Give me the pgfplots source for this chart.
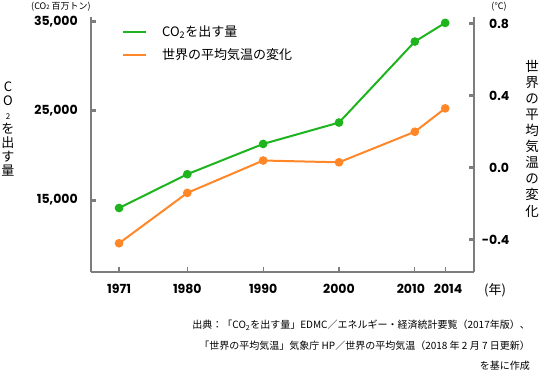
\documentclass[border=0pt]{standalone}
\usepackage{pgfplots}
\pgfplotsset{compat=1.18}
\usepackage{fontspec}
\setmainfont{Poppins}
\newfontfamily\jp{Noto Sans CJK JP}
\definecolor{cgreen}{RGB}{30,180,30}
\definecolor{corange}{RGB}{255,135,40}
\definecolor{axgray}{RGB}{125,125,125}
\begin{document}
\begin{tikzpicture}[x=1pt,y=1pt]
\useasboundingbox (0,0) rectangle (540,-373);
\begin{axis}[
 at={(91pt,-272pt)}, anchor=south west,
 width=383pt, height=255pt, scale only axis,
 xmin=1967.3, xmax=2017.8, ymin=6910, ymax=35560,
 scaled y ticks=false, scaled x ticks=false,
 axis x line*=bottom, axis y line*=left,
 axis line style={-, axgray, line width=1.6pt},
 xtick={1971,1980,1990,2000,2010,2014},
 xticklabels={1971,1980,1990,2000,2010\hspace*{8pt},\hspace*{6pt}2014},
 ytick={15000,25000,35000},
 yticklabels={{15,000},{25,000},{35,000}},
 tick align=inside,
 major tick length=5pt,
 x tick style={axgray, line width=1.2pt},
 y tick style={axgray, line width=3pt},
 ticklabel style={font=\bfseries\fontsize{12.5}{12.5}\selectfont},
 xticklabel style={yshift=-8.7pt},
 yticklabel style={xshift=-9.7pt},
 clip=false,
 legend style={at={(0.081,0.967)}, anchor=north west, draw=none, fill=none,
   inner sep=0pt, row sep=11pt, font=\jp\fontsize{13}{13}\selectfont,
   nodes={inner sep=0pt}},
 legend cell align=left,
 legend image code/.code={\draw[#1] (0pt,0pt) -- (23pt,0pt); \path (38pt,0pt);},
]
\addplot[cgreen, line width=2pt, mark=*, mark size=3.3pt] coordinates {
 (1971,14100) (1980,17900) (1990,21300) (2000,23700) (2010,32800) (2014,34900)};
\addlegendentry{CO\textsubscript{2}を出す量}
\addlegendimage{corange, line width=2pt}
\addlegendentry{世界の平均気温の変化}
\end{axis}
\begin{axis}[
 at={(91pt,-272pt)}, anchor=south west,
 width=383pt, height=255pt, scale only axis,
 xmin=1967.3, xmax=2017.8, ymin=-0.58, ymax=0.838,
 scaled y ticks=false, scaled x ticks=false,
 hide x axis, axis y line*=right,
 axis line style={-, axgray, line width=1.6pt},
 ytick={-0.4,0,0.4,0.8},
 yticklabels={\llap{-}0.4,0.0,0.4,0.8},
 tick align=inside,
 major tick length=5pt,
 y tick style={axgray, line width=3pt},
 ticklabel style={font=\bfseries\fontsize{12.5}{12.5}\selectfont},
 yticklabel style={anchor=west, xshift=11.7pt},
 clip=false,
]
\addplot[corange, line width=2pt, mark=*, mark size=3.3pt] coordinates {
 (1971,-0.42) (1980,-0.14) (1990,0.04) (2000,0.03) (2010,0.20) (2014,0.33)};
\end{axis}
\node[font=\jp\fontsize{9}{9}\selectfont, inner sep=0pt] at (61,-7) {(CO{\fontsize{6}{6}\selectfont 2} 百万トン)};
\node[font=\jp\fontsize{9}{9}\selectfont, inner sep=0pt] at (499,-7) {(℃)};
\node[font=\jp\fontsize{13}{13}\selectfont] at (495,-290) {(年)};
\node[font=\jp\fontsize{13}{14}\selectfont, align=center] at (8,-129) {C\\O\\{\fontsize{8}{8}\selectfont 2}\\を\\出\\す\\量};
\node[font=\jp\fontsize{13.5}{16.1}\selectfont, align=center] at (532,-138.5) {世\\界\\の\\平\\均\\気\\温\\の\\変\\化};
\node[font=\jp\fontsize{10}{20.5}\selectfont, align=right, anchor=north east, inner sep=0pt] at (530,-320) {出典：「CO\textsubscript{2}を出す量」EDMC／エネルギー・経済統計要覧（2017年版）、\\「世界の平均気温」気象庁 HP／世界の平均気温（2018 年 2 月 7 日更新）\\を基に作成};
\end{tikzpicture}
\end{document}
